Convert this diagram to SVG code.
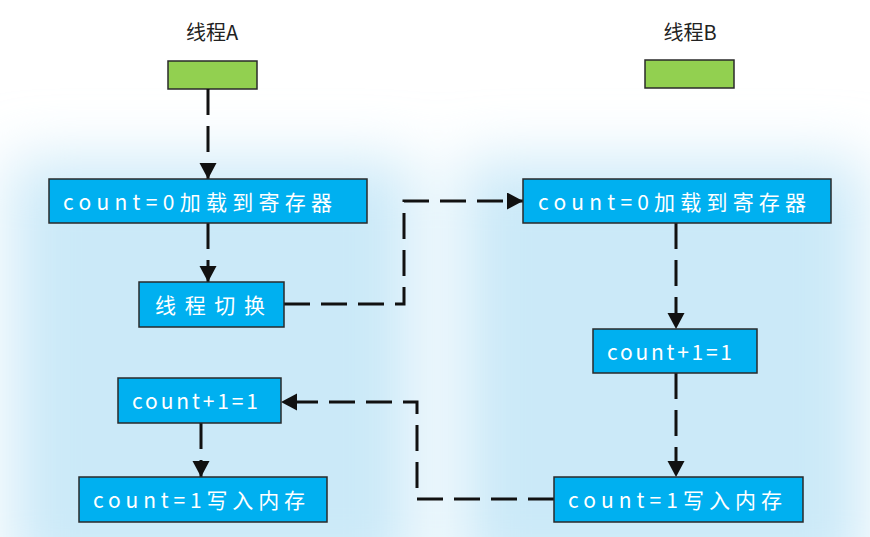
<svg xmlns="http://www.w3.org/2000/svg" width="870" height="537" viewBox="0 0 870 537">
<style>
.blue{fill:#00b0f0;stroke:#2a2a2a;stroke-width:1.5}
.green{fill:#92d050;stroke:#2a2a2a;stroke-width:1.5}
.lbl{font-family:"Noto Sans CJK SC","Noto Sans",sans-serif;font-size:21px;fill:#ffffff;dominant-baseline:central}
.ttl{font-family:"Noto Sans CJK SC","Noto Sans",sans-serif;font-size:20px;fill:#222;text-anchor:middle;dominant-baseline:central}
.conn{fill:none;stroke:#111;stroke-width:3;stroke-dasharray:26 11}
</style>
<defs>
<filter id="blur" x="-30%" y="-30%" width="160%" height="160%"><feGaussianBlur stdDeviation="30"/></filter>
<marker id="arr" markerUnits="userSpaceOnUse" markerWidth="18" markerHeight="18" refX="16" refY="8.5" orient="auto" viewBox="0 0 18 18">
<path d="M0,0 L16,8.5 L0,17 z" fill="#111"/>
</marker>
</defs>
<rect width="870" height="537" fill="#ffffff"/>
<g id="glow" filter="url(#blur)" fill="#cbe9f8">
<rect x="10" y="160" width="405" height="420"/>
<rect x="460" y="160" width="405" height="420"/>
</g>
<g id="titleA"><text class="ttl" x="212" y="31">线程A</text></g>
<g id="titleB"><text class="ttl" x="690" y="31">线程B</text></g>
<g id="startA"><rect class="green" x="168" y="61" width="89" height="28"/></g>
<g id="startB"><rect class="green" x="645" y="60" width="89" height="28"/></g>
<g id="connectors">
<path class="conn" d="M208,89 V179" marker-end="url(#arr)"/>
<path class="conn" d="M208,223 V282" marker-end="url(#arr)"/>
<path class="conn" d="M284,304 H404 V201 H523" marker-end="url(#arr)"/>
<path class="conn" d="M201,423 V477" marker-end="url(#arr)"/>
<path class="conn" d="M676,223 V329" marker-end="url(#arr)"/>
<path class="conn" d="M676,373 V477" marker-end="url(#arr)"/>
<path class="conn" d="M554,499 H417 V402 H281" marker-end="url(#arr)"/>
</g>
<g id="a1"><rect class="blue" x="49" y="179" width="318" height="44"/><text class="lbl" x="63" y="201" textLength="269" lengthAdjust="spacing">count=0加载到寄存器</text></g>
<g id="a2"><rect class="blue" x="139" y="282" width="145" height="45"/><text class="lbl" x="155" y="304" textLength="110" lengthAdjust="spacing">线程切换</text></g>
<g id="a3"><rect class="blue" x="118" y="378" width="163" height="45"/><text class="lbl" x="132" y="400" textLength="126" lengthAdjust="spacing">count+1=1</text></g>
<g id="a4"><rect class="blue" x="79" y="477" width="248" height="45"/><text class="lbl" x="93" y="499" textLength="212" lengthAdjust="spacing">count=1写入内存</text></g>
<g id="b1"><rect class="blue" x="523" y="179" width="308" height="44"/><text class="lbl" x="538" y="201" textLength="268" lengthAdjust="spacing">count=0加载到寄存器</text></g>
<g id="b2"><rect class="blue" x="593" y="329" width="164" height="44"/><text class="lbl" x="607" y="351" textLength="125" lengthAdjust="spacing">count+1=1</text></g>
<g id="b4"><rect class="blue" x="554" y="477" width="249" height="45"/><text class="lbl" x="568" y="499" textLength="214" lengthAdjust="spacing">count=1写入内存</text></g>
</svg>
